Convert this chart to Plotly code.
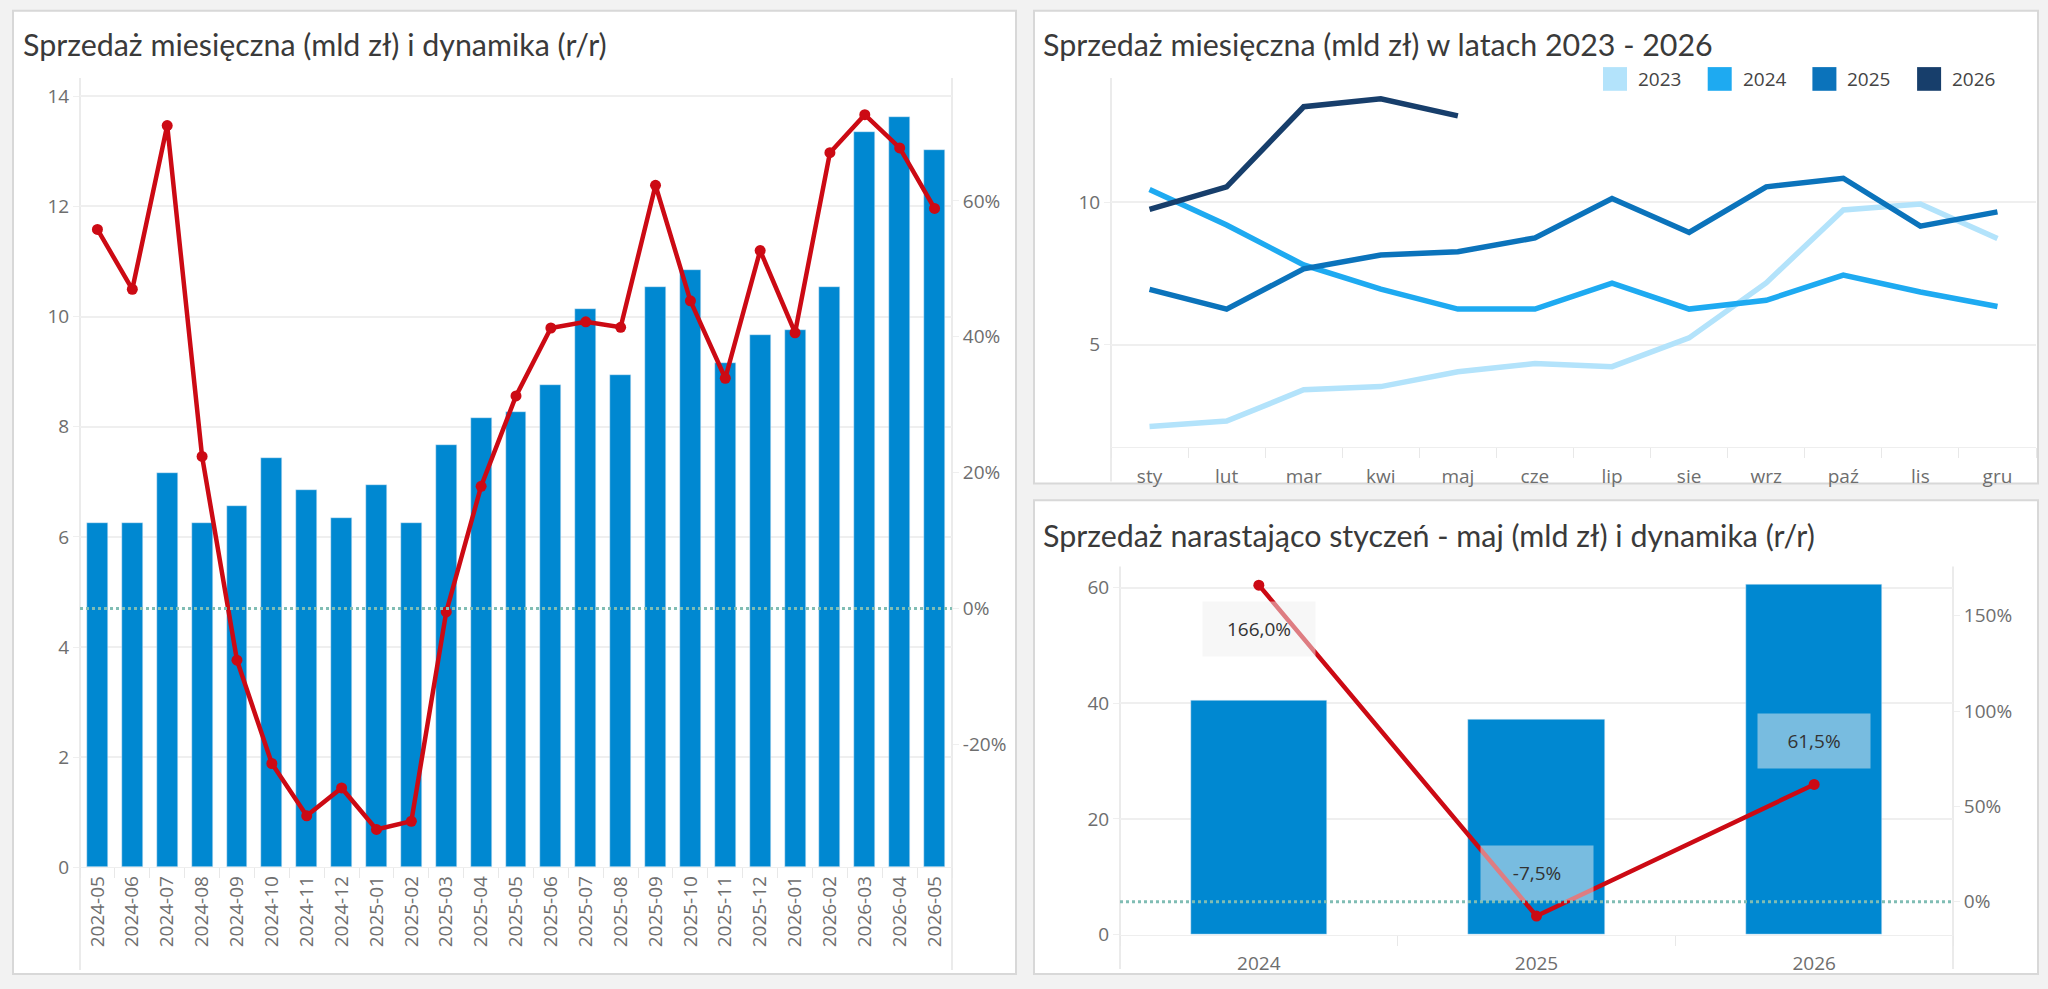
import plotly.graph_objects as go

W, H = 2048, 989

# -----------  dane

months = ['sty', 'lut', 'mar', 'kwi', 'maj', 'cze', 'lip', 'sie', 'wrz', 'paź', 'lis', 'gru']
years = ['2023', '2024', '2025', '2026']

sales_2023 = [2.13, 2.32, 3.42, 3.53, 4.05, 4.34, 4.23, 5.24, 7.17, 9.73, 9.94, 8.73]
sales_2024 = [10.45, 9.2, 7.8, 6.95, 6.25, 6.25, 7.16, 6.25, 6.56, 7.44, 6.85, 6.34]
sales_2025 = [6.94, 6.25, 7.66, 8.15, 8.26, 8.75, 10.13, 8.94, 10.54, 10.84, 9.16, 9.66]
sales_2026 = [9.75, 10.54, 13.35, 13.63, 13.03]

periods = ['2024-05', '2024-06', '2024-07', '2024-08', '2024-09', '2024-10', '2024-11',
           '2024-12', '2025-01', '2025-02', '2025-03', '2025-04', '2025-05', '2025-06',
           '2025-07', '2025-08', '2025-09', '2025-10', '2025-11', '2025-12', '2026-01',
           '2026-02', '2026-03', '2026-04', '2026-05']
monthly_sales = sales_2024[4:] + sales_2025 + sales_2026
monthly_yoy = [55.8, 47.0, 71.1, 22.4, -7.6, -22.8, -30.5, -26.4, -32.5, -31.3, -0.5, 18.0,
               31.3, 41.3, 42.2, 41.4, 62.3, 45.3, 33.9, 52.7, 40.6, 67.1, 72.7, 67.8, 58.9]

ytd_years = ['2024', '2025', '2026']
ytd_sales = [40.5, 37.3, 60.5]
ytd_yoy = [166.0, -7.5, 61.5]

yoy_ticks = [-20, 0, 20, 40, 60]
ytd_yoy_ticks = [0, 50, 100, 150]

# -----------  style

BAR = '#0088d1'
RED = '#cc0a14'
ZERO = '#80bdb4'
year_colors = ['#b3e3fb', '#1eaaf1', '#0b73bb', '#173e6b']
TICK = dict(family='Open Sans', size=19, color='#6e6e6e')
TITLE = dict(family='Lato', size=30.4, color='#3a3a3a')
GRID = '#efefef'
AXLINE = '#e4e4e4'


def px_x(p):
    return p / W


def px_y(p):
    return 1 - p / H


fig = go.Figure()

# wykres 1: sprzedaz miesieczna + dynamika
fig.add_trace(go.Bar(x=periods, y=monthly_sales, marker_color=BAR, width=0.6,
                     xaxis='x', yaxis='y'))
fig.add_trace(go.Scatter(x=periods, y=monthly_yoy, mode='lines+markers',
                         line=dict(color=RED, width=4.5), marker=dict(size=11, color=RED),
                         xaxis='x', yaxis='y2'))

# wykres 2: lata 2023 - 2026
for name, vals, col in zip(years, [sales_2023, sales_2024, sales_2025, sales_2026], year_colors):
    fig.add_trace(go.Scatter(x=months[:len(vals)], y=vals, mode='lines', name=name,
                             line=dict(color=col, width=5.5), xaxis='x2', yaxis='y3'))

# wykres 3: narastajaco sty - maj
fig.add_trace(go.Bar(x=ytd_years, y=ytd_sales, marker_color=BAR, width=0.49,
                     xaxis='x3', yaxis='y4'))
fig.add_trace(go.Scatter(x=ytd_years, y=ytd_yoy, mode='lines+markers',
                         line=dict(color=RED, width=4.5), marker=dict(size=11, color=RED),
                         xaxis='x3', yaxis='y5'))

xcat = dict(type='category', ticks='outside', tickson='boundaries', ticklen=10,
            tickcolor='#e8e8e8', showgrid=False, showline=True, linecolor='#eeeeee',
            tickfont=TICK, fixedrange=True)
yval = dict(gridcolor=GRID, gridwidth=1.5, ticks='outside', ticklen=6, tickcolor=GRID,
            zeroline=False, showline=False, tickfont=TICK, fixedrange=True)
yright = dict(side='right', showgrid=False, zeroline=False, ticks='outside', ticklen=6,
              tickcolor=GRID, tickfont=TICK, fixedrange=True)

shapes = []
# panele
for x0, y0, x1, y1 in [(13, 11, 1016, 987), (1034, 11, 2038, 490), (1034, 507, 2038, 987)]:
    shapes.append(dict(type='rect', xref='paper', yref='paper', layer='below',
                       x0=px_x(x0), x1=px_x(x1), y0=px_y(y1), y1=px_y(y0),
                       fillcolor='white', line=dict(color='#d8d8d8', width=2)))
# linie osi pionowych
for x, ya, yb in [(80, 79, 983), (952, 79, 983), (1111, 79, 488), (1120, 574, 982), (1953, 574, 982)]:
    shapes.append(dict(type='line', xref='paper', yref='paper', layer='below',
                       x0=px_x(x), x1=px_x(x), y0=px_y(yb), y1=px_y(ya),
                       line=dict(color=AXLINE, width=1.5)))
# linie 0%
for xd, yr in [('x domain', 'y2'), ('x3 domain', 'y5')]:
    shapes.append(dict(type='line', xref=xd, yref=yr, x0=0, x1=1, y0=0, y1=0, layer='above',
                       line=dict(color=ZERO, width=3, dash='dot')))

annotations = []
for text, x, y in [('Sprzedaż miesięczna (mld zł) i dynamika (r/r)', 21, 45),
                   ('Sprzedaż miesięczna (mld zł) w latach 2023 - 2026', 1041, 45),
                   ('Sprzedaż narastająco styczeń - maj (mld zł) i dynamika (r/r)', 1041, 542)]:
    annotations.append(dict(text=text, xref='paper', yref='paper', x=px_x(x), y=px_y(y),
                            xanchor='left', yanchor='middle', showarrow=False, font=TITLE))

# legenda wykresu 2
for i, (name, col) in enumerate(zip(years, year_colors)):
    sx = 1603 + i * 104.7
    shapes.append(dict(type='rect', xref='paper', yref='paper', x0=px_x(sx), x1=px_x(sx + 24),
                       y0=px_y(92), y1=px_y(68), fillcolor=col, line=dict(width=0)))
    annotations.append(dict(text=name, xref='paper', yref='paper', x=px_x(sx + 33), y=px_y(80),
                            xanchor='left', yanchor='middle', showarrow=False,
                            font=dict(family='Open Sans', size=19, color='#444444')))

# etykiety dynamiki narastajacej
for i, v in enumerate(ytd_yoy):
    annotations.append(dict(text=f'{v:.1f}%'.replace('.', ','), xref='x3', yref='y5', x=i, y=v,
                            yshift=-44 if v == max(ytd_yoy) else 43, showarrow=False,
                            width=110, height=52, bgcolor='rgba(240,240,240,0.5)',
                            font=dict(family='Open Sans', size=19, color='#333333')))

fig.update_layout(
    width=W, height=H, margin=dict(l=0, r=0, t=0, b=0),
    paper_bgcolor='#f2f2f2', plot_bgcolor='rgba(0,0,0,0)',
    showlegend=False, bargap=0,
    xaxis=dict(xcat, domain=[px_x(80), px_x(952)], anchor='y', tickangle=-90,
               range=[-0.5, len(periods) - 0.5]),
    yaxis=dict(yval, domain=[px_y(879), px_y(79)], anchor='x', range=[0, 14.33], dtick=2),
    yaxis2=dict(yright, overlaying='y', anchor='x', range=[-38.1, 78.1],
                tickvals=yoy_ticks, ticktext=[f'{v}%' for v in yoy_ticks]),
    xaxis2=dict(xcat, domain=[px_x(1111), px_x(2036)], anchor='y3', tickangle=0,
                range=[-0.5, len(months) - 0.5], ticklabelstandoff=12),
    yaxis3=dict(yval, domain=[px_y(453), px_y(79)], anchor='x2', range=[1.41, 14.36],
                tickvals=[5, 10]),
    xaxis3=dict(xcat, domain=[px_x(1120), px_x(1953)], anchor='y4', tickangle=0,
                range=[-0.5, len(ytd_years) - 0.5], ticklabelstandoff=12),
    yaxis4=dict(yval, domain=[px_y(947), px_y(574)], anchor='x3', range=[0, 63.7], dtick=20),
    yaxis5=dict(yright, overlaying='y4', anchor='x3', range=[-17.2, 175.8],
                tickvals=ytd_yoy_ticks, ticktext=[f'{v}%' for v in ytd_yoy_ticks]),
    shapes=shapes, annotations=annotations,
)

fig.write_html("out.html", config={'displayModeBar': False},
               post_script="document.body.style.margin='0';document.body.style.overflow='hidden';")
